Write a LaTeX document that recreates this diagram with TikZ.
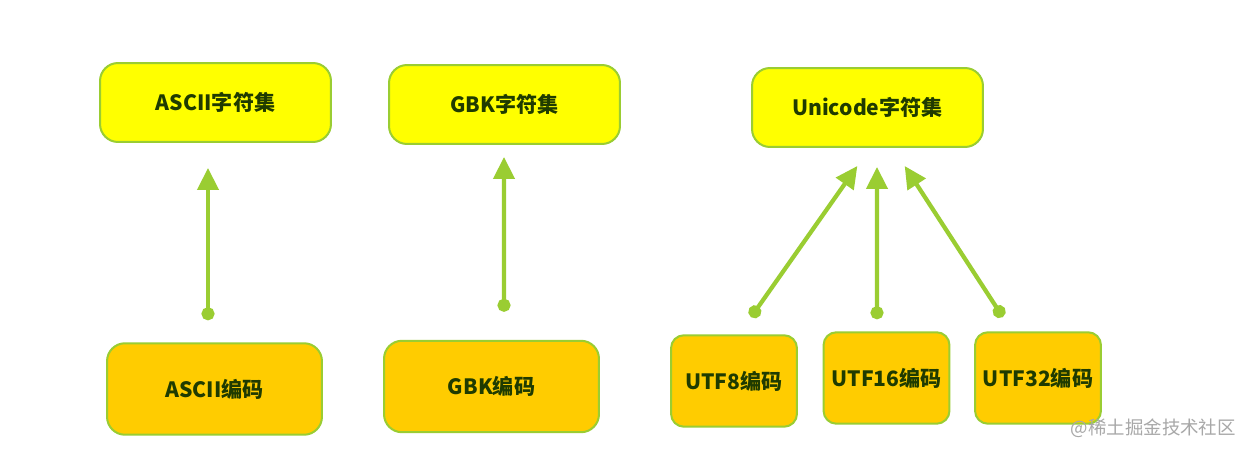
\documentclass[tikz,border=0pt]{standalone}
\usepackage{fontspec}
\setmainfont{Noto Sans CJK SC}
\usetikzlibrary{arrows.meta,calc}
\definecolor{setfill}{HTML}{FFFF00}
\definecolor{encfill}{HTML}{FFCC00}
\definecolor{lime}{HTML}{9ACD32}
\definecolor{txt}{HTML}{1F3B00}
\definecolor{wm}{HTML}{A8A8A8}
\tikzset{
  box/.style={draw=lime, line width=0.04cm, rounded corners=0.36cm, font=\fontsize{12}{14}\selectfont\bfseries, text=txt, inner sep=0pt},
  setbox/.style={box, fill=setfill, minimum width=4.62cm, minimum height=1.58cm},
  encbox/.style={box, fill=encfill, minimum width=4.3cm, minimum height=1.83cm},
  smallenc/.style={box, fill=encfill, minimum width=2.52cm, minimum height=1.83cm, rounded corners=0.26cm},
  conn/.style={draw=lime, line width=0.085cm, {Circle[length=0.26cm]}-{Triangle[length=0.44cm,width=0.42cm]}}
}
\begin{document}
\begin{tikzpicture}[x=0.02cm,y=-0.02cm]
\useasboundingbox[fill=white] (0,0) rectangle (1255,452);
\node[setbox] (aset) at (215.5,102.5) {ASCII字符集};
\node[setbox] (gset) at (504.5,104.5) {GBK字符集};
\node[setbox] (uset) at (867.5,107.5) {Unicode字符集};
\node[encbox] (aenc) at (214.5,389) {ASCII编码};
\node[encbox] (genc) at (491.5,386.5) {GBK编码};
\node[smallenc] (u8) at (734,381) {UTF8编码};
\node[smallenc] (u16) at (886.5,378) {UTF16编码};
\node[smallenc] (u32) at (1038,378) {UTF32编码};
\draw[conn, shorten <=0.44cm, shorten >=0.5cm] ($(aenc.north)+(-6.5,0)$) -- ($(aset.south)+(-7.5,0)$);
\draw[conn, shorten <=0.56cm, shorten >=0.24cm] ($(genc.north)+(12.5,0)$) -- ($(gset.south)+(-0.5,0)$);
\draw[conn, shorten <=0.42cm, shorten >=0.44cm] ($(u8.north)+(5,0)$) -- ($(uset.south)+(2.5,0)$);
\draw[conn, shorten <=0.24cm, shorten >=0.38cm] ($(u16.north)+(-9.5,0)$) -- ($(uset.south)+(9.5,0)$);
\draw[conn, shorten <=0.34cm, shorten >=0.43cm] ($(u32.north)+(-26,0)$) -- ($(uset.south)+(25.5,0)$);
\node[text=wm, font=\fontsize{10.5}{12}\selectfont, anchor=east] (wmark) at (1242,428) {@稀土掘金技术社区};
\end{tikzpicture}
\end{document}
